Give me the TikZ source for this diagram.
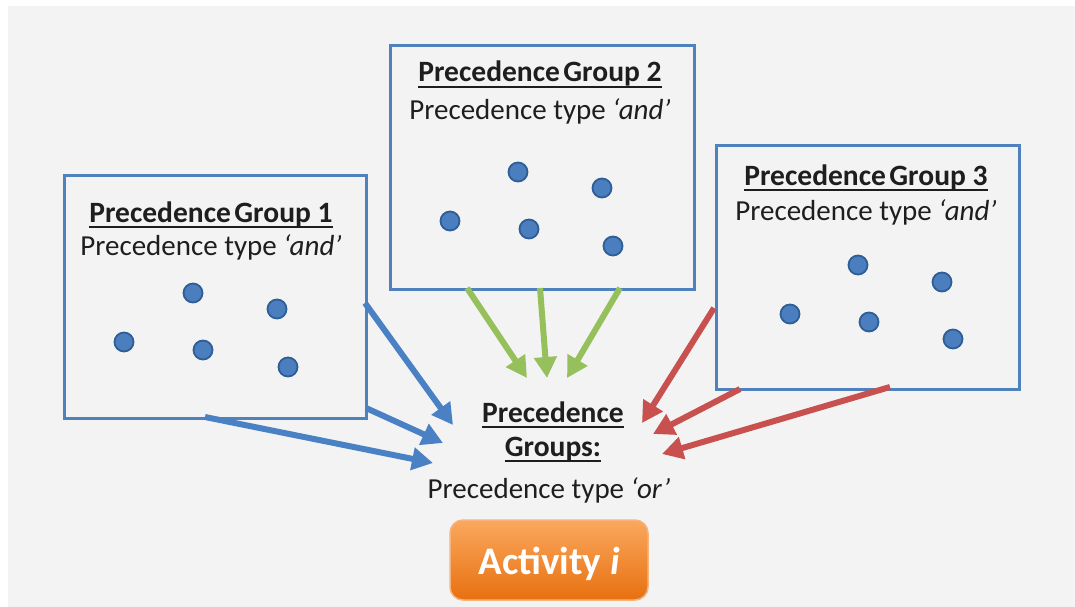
\documentclass[tikz,border=0pt]{standalone}
\usepackage{fontspec}
\setmainfont{Carlito}
\usetikzlibrary{arrows.meta}
\newcommand\myul[1]{\vtop{\hbox{#1\vphantom{p}}\kern-0.5pt\hrule height 1.9pt}}
\definecolor{bg}{HTML}{F3F3F3}
\definecolor{boxblue}{HTML}{4F81BD}
\definecolor{dotfill}{HTML}{4A7EBF}
\definecolor{dotline}{HTML}{2F5E96}
\definecolor{arrblue}{HTML}{4A80C4}
\definecolor{arrgreen}{HTML}{96C05C}
\definecolor{arrred}{HTML}{C8504E}
\definecolor{orangetop}{HTML}{FAA85E}
\definecolor{orangebot}{HTML}{E8700F}
\definecolor{orangeline}{HTML}{F6B37C}
\definecolor{textc}{HTML}{1E1E1E}
\tikzset{
  grpbox/.style={draw=boxblue, line width=2.6pt, fill=bg, anchor=north west, inner sep=0pt},
  dot/.style={circle, fill=dotfill, draw=dotline, line width=1.8pt, minimum size=19pt, inner sep=0pt},
  txt/.style={font=\fontsize{29}{34}\selectfont, text=textc, inner sep=0pt, anchor=base},
  ttl/.style={txt, font=\fontsize{29.5}{34}\selectfont\bfseries},
  conn/.style={line width=6pt, -{Triangle[length=21pt,width=22pt]}},
  bluearr/.style={conn, draw=arrblue, fill=arrblue},
  greenarr/.style={conn, draw=arrgreen, fill=arrgreen},
  redarr/.style={conn, draw=arrred, fill=arrred},
  actbtn/.style={rounded corners=13pt, top color=orangetop, bottom color=orangebot, draw=orangeline, line width=1.5pt, minimum width=198pt, minimum height=80pt, inner sep=0pt}
}
\begin{document}
\begin{tikzpicture}[x=1pt,y=-1pt]
\useasboundingbox (0,0) rectangle (1075,607);
\fill[white] (0,0) rectangle (1075,607);
\fill[bg] (8,6) rectangle (1075,607);

% group boxes
\node[grpbox, minimum width=302pt, minimum height=243pt] (g1) at (63,174) {};
\node[grpbox, minimum width=304pt, minimum height=244pt] (g2) at (389,44) {};
\node[grpbox, minimum width=303pt, minimum height=244pt] (g3) at (715,144) {};

% titles
\node[ttl] (t1) at (211,222) {\myul{Precedence\hspace{0.12em}Group 1}};
\node[txt] (s1) at (211,255) {Precedence type \textit{‘and’}};
\node[ttl] (t2) at (540,82) {\myul{Precedence\hspace{0.12em}Group 2}};
\node[txt] (s2) at (540,119) {Precedence type \textit{‘and’}};
\node[ttl] (t3) at (866,185) {\myul{Precedence\hspace{0.12em}Group 3}};
\node[txt] (s3) at (866,220) {Precedence type \textit{‘and’}};

% dots group 1
\node[dot] (d11) at (193,293) {};
\node[dot] (d12) at (277,309) {};
\node[dot] (d13) at (124,342) {};
\node[dot] (d14) at (203,350) {};
\node[dot] (d15) at (288,367) {};
% dots group 2
\node[dot] (d21) at (518,172) {};
\node[dot] (d22) at (602,188) {};
\node[dot] (d23) at (450,221) {};
\node[dot] (d24) at (529,229) {};
\node[dot] (d25) at (613,246) {};
% dots group 3
\node[dot] (d31) at (858,265) {};
\node[dot] (d32) at (942,282) {};
\node[dot] (d33) at (790,314) {};
\node[dot] (d34) at (869,322) {};
\node[dot] (d35) at (953,339) {};

% centre texts
\node[ttl] (pg1) at (553,422) {\myul{Precedence}};
\node[ttl] (pg2) at (553,456) {\myul{Groups:}};
\node[txt] (ptor) at (549,498) {Precedence type \textit{‘or’}};

% activity button
\node[actbtn] (act) at (549,560) {};
\node[txt, text=white, font=\fontsize{39}{46}\selectfont\bfseries] (actt) at (549,574) {Activity \textit{i}};

% connector end points
\coordinate (b1s) at (365,303); \coordinate (b1e) at (453,425);
\coordinate (b2s) at (366,408); \coordinate (b2e) at (443,443);
\coordinate (b3s) at (205,417); \coordinate (b3e) at (433,463);
\coordinate (gr1s) at (467,288); \coordinate (gr1e) at (527,378);
\coordinate (gr2s) at (540,288); \coordinate (gr2e) at (547,378);
\coordinate (gr3s) at (620,288); \coordinate (gr3e) at (567,378);
\coordinate (r1s) at (714,308); \coordinate (r1e) at (642,423);
\coordinate (r2s) at (740,389); \coordinate (r2e) at (653,434);
\coordinate (r3s) at (890,387); \coordinate (r3e) at (662,454);

\draw[bluearr] (b1s) -- (b1e);
\draw[bluearr] (b2s) -- (b2e);
\draw[bluearr] (b3s) -- (b3e);
\draw[greenarr] (gr1s) -- (gr1e);
\draw[greenarr] (gr2s) -- (gr2e);
\draw[greenarr] (gr3s) -- (gr3e);
\draw[redarr] (r1s) -- (r1e);
\draw[redarr] (r2s) -- (r2e);
\draw[redarr] (r3s) -- (r3e);
\end{tikzpicture}
\end{document}
